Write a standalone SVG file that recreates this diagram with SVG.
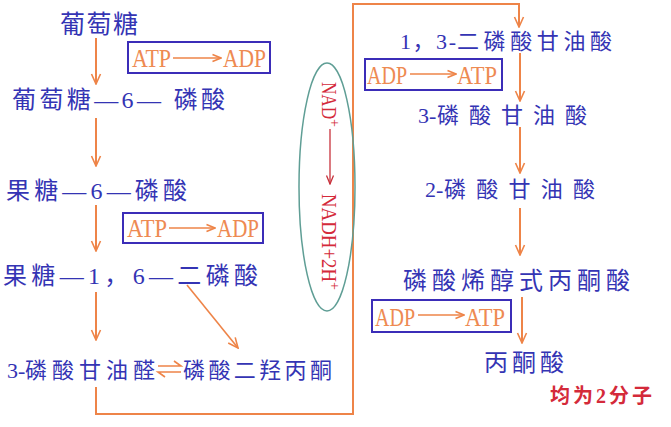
<svg xmlns="http://www.w3.org/2000/svg" width="671" height="427" viewBox="0 0 671 427">
<defs>
<style>
.n{font-family:"Liberation Serif","Noto Sans CJK SC",serif;fill:#3434b4;}
.e{font-family:"Liberation Serif","Noto Sans CJK SC",serif;fill:#ee8a52;font-size:25px;}
.box{fill:none;stroke:#3b2db8;stroke-width:2;}
.c{fill:none;stroke:#ee8448;stroke-width:2;}
.ci{fill:none;stroke:#ee8448;stroke-width:1.6;}
.r{font-family:"Liberation Serif","Noto Sans CJK SC",serif;fill:#d42a3a;font-size:20px;}
</style>
<marker id="ah" viewBox="0 0 12 12" refX="11" refY="6" markerWidth="12" markerHeight="12" markerUnits="userSpaceOnUse" orient="auto">
<path d="M1,1.5 L11,6 L1,10.5" fill="none" stroke="#ee8448" stroke-width="1.6"/>
</marker>
<marker id="ahs" viewBox="0 0 10 10" refX="9.5" refY="5" markerWidth="10" markerHeight="10" markerUnits="userSpaceOnUse" orient="auto">
<path d="M1,1.5 L9.5,5 L1,8.5" fill="none" stroke="#ee8448" stroke-width="1.5"/>
</marker>
<marker id="ahr" viewBox="0 0 10 10" refX="9.5" refY="5" markerWidth="10" markerHeight="10" markerUnits="userSpaceOnUse" orient="auto">
<path d="M1,1.5 L9.5,5 L1,8.5" fill="none" stroke="#c8323c" stroke-width="1.3"/>
</marker>
</defs>
<rect width="671" height="427" fill="#ffffff"/>

<g id="connectors">
<line class="c" x1="96" y1="38" x2="96" y2="84" marker-end="url(#ah)"/>
<line class="c" x1="96" y1="118" x2="96" y2="166" marker-end="url(#ah)"/>
<line class="c" x1="96" y1="205" x2="96" y2="251" marker-end="url(#ah)"/>
<line class="c" x1="96" y1="292" x2="96" y2="340" marker-end="url(#ah)"/>
<line class="ci" x1="187" y1="285" x2="238" y2="348" marker-end="url(#ah)"/>
<path class="c" d="M96,387 V414 H353 V4 H519 V27" marker-end="url(#ah)"/>
<line class="c" x1="520" y1="53" x2="520" y2="101" marker-end="url(#ah)"/>
<line class="c" x1="520" y1="127" x2="520" y2="173" marker-end="url(#ah)"/>
<line class="c" x1="520" y1="208" x2="520" y2="255" marker-end="url(#ah)"/>
<line class="c" x1="522" y1="297" x2="522" y2="343" marker-end="url(#ah)"/>
<g id="equilibrium" class="ci">
<path d="M158,366 H181 L174,361"/>
<path d="M181,372 H158 L165,377"/>
</g>
</g>

<g id="glucose"><text class="n" x="60" y="33" font-size="25" textLength="78" lengthAdjust="spacing">葡萄糖</text></g>
<g id="atp-adp-1">
<rect class="box" x="128" y="42" width="142" height="31"/>
<text class="e" x="132" y="67" textLength="39" lengthAdjust="spacingAndGlyphs">ATP</text>
<line class="ci" x1="173" y1="58" x2="221" y2="58" marker-end="url(#ahs)"/>
<text class="e" x="223" y="67" textLength="43" lengthAdjust="spacingAndGlyphs">ADP</text>
</g>
<g id="g6p"><text class="n" x="12" y="108" font-size="24" textLength="213" lengthAdjust="spacing">葡萄糖—6— 磷酸</text></g>
<g id="f6p"><text class="n" x="6" y="199" font-size="24" textLength="181" lengthAdjust="spacing">果糖—6—磷酸</text></g>
<g id="atp-adp-2">
<rect class="box" x="123" y="213" width="140" height="30"/>
<text class="e" x="127" y="237" textLength="40" lengthAdjust="spacingAndGlyphs">ATP</text>
<line class="ci" x1="169" y1="228" x2="215" y2="228" marker-end="url(#ahs)"/>
<text class="e" x="217" y="237" textLength="42" lengthAdjust="spacingAndGlyphs">ADP</text>
</g>
<g id="f16bp"><text class="n" x="3" y="284" font-size="24" textLength="255" lengthAdjust="spacing">果糖—1，6—二磷酸</text></g>
<g id="g3p"><text class="n" y="378" font-size="22"><tspan x="7">3-</tspan><tspan x="25" textLength="130" lengthAdjust="spacing">磷酸甘油醛</tspan></text></g>
<g id="dhap"><text class="n" x="183" y="378" font-size="22" textLength="149" lengthAdjust="spacing">磷酸二羟丙酮</text></g>

<g id="nad">
<ellipse cx="327" cy="187" rx="28" ry="124" fill="none" stroke="#5f9e95" stroke-width="1.5"/>
<text class="r" transform="translate(322,82) rotate(90)"><tspan textLength="37" lengthAdjust="spacingAndGlyphs">NAD</tspan><tspan dy="-8" font-size="14">+</tspan></text>
<line x1="330" y1="129" x2="330" y2="184" stroke="#c8323c" stroke-width="1.3" marker-end="url(#ahr)"/>
<text class="r" transform="translate(322,194) rotate(90)"><tspan textLength="88" lengthAdjust="spacingAndGlyphs">NADH+2H</tspan><tspan dy="-8" font-size="14">+</tspan></text>
</g>

<g id="bpg13"><text class="n" y="49" font-size="22"><tspan x="400" textLength="56" lengthAdjust="spacing">1，3-</tspan><tspan x="457" textLength="155" lengthAdjust="spacing">二磷酸甘油酸</tspan></text></g>
<g id="adp-atp-1">
<rect class="box" x="365" y="59" width="137" height="31"/>
<text class="e" x="367" y="84" textLength="40" lengthAdjust="spacingAndGlyphs">ADP</text>
<line class="ci" x1="410" y1="74" x2="456" y2="74" marker-end="url(#ahs)"/>
<text class="e" x="457" y="84" textLength="40" lengthAdjust="spacingAndGlyphs">ATP</text>
</g>
<g id="pg3"><text class="n" y="123" font-size="22"><tspan x="418">3-</tspan><tspan x="437" textLength="150" lengthAdjust="spacing">磷酸甘油酸</tspan></text></g>
<g id="pg2"><text class="n" y="197" font-size="22"><tspan x="425">2-</tspan><tspan x="444" textLength="151" lengthAdjust="spacing">磷酸甘油酸</tspan></text></g>
<g id="pep"><text class="n" x="403" y="289" font-size="24" textLength="227" lengthAdjust="spacing">磷酸烯醇式丙酮酸</text></g>
<g id="adp-atp-2">
<rect class="box" x="372" y="300" width="139" height="32"/>
<text class="e" x="375" y="326" textLength="40" lengthAdjust="spacingAndGlyphs">ADP</text>
<line class="ci" x1="418" y1="315" x2="464" y2="315" marker-end="url(#ahs)"/>
<text class="e" x="465" y="326" textLength="40" lengthAdjust="spacingAndGlyphs">ATP</text>
</g>
<g id="pyruvate"><text class="n" x="484" y="371" font-size="24" textLength="80" lengthAdjust="spacing">丙酮酸</text></g>
<g id="note"><text class="r" x="550" y="403" font-weight="bold" textLength="102" lengthAdjust="spacing">均为2分子</text></g>
</svg>
